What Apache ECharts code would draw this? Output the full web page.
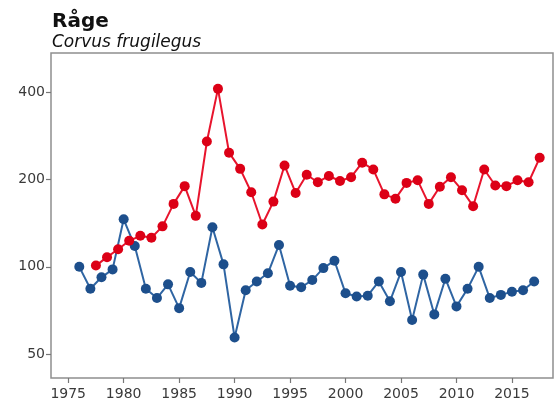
<!DOCTYPE html>
<html>
<head>
<meta charset="utf-8">
<script src="https://cdn.jsdelivr.net/npm/echarts@6/dist/echarts.min.js"></script>
<style>
  html, body { margin: 0; padding: 0; background: #fff; }
  #chart { width: 557px; height: 400px; }
</style>
</head>
<body>
<div id="chart"></div>
<script>
// blue series, one value per year 1976-2017
const blueYears = [1976, 1977, 1978, 1979, 1980, 1981, 1982, 1983, 1984, 1985, 1986, 1987, 1988, 1989,
  1990, 1991, 1992, 1993, 1994, 1995, 1996, 1997, 1998, 1999, 2000, 2001, 2002, 2003,
  2004, 2005, 2006, 2007, 2008, 2009, 2010, 2011, 2012, 2013, 2014, 2015, 2016, 2017]
const blueValues = [100, 84, 92, 98, 146, 118, 84, 78, 87, 72, 96, 88, 137, 102,
  57, 83, 89, 95, 119, 86, 85, 90, 99, 105, 81, 79, 79.5, 89,
  76, 96, 65.5, 94, 68.5, 91, 73, 84, 100, 78, 80, 82, 83, 89]

// red series, winter seasons 1977/78 - 2017/18 (plotted mid-season)
const redYears = [1977.5, 1978.5, 1979.5, 1980.5, 1981.5, 1982.5, 1983.5, 1984.5, 1985.5, 1986.5,
  1987.5, 1988.5, 1989.5, 1990.5, 1991.5, 1992.5, 1993.5, 1994.5, 1995.5, 1996.5,
  1997.5, 1998.5, 1999.5, 2000.5, 2001.5, 2002.5, 2003.5, 2004.5, 2005.5, 2006.5,
  2007.5, 2008.5, 2009.5, 2010.5, 2011.5, 2012.5, 2013.5, 2014.5, 2015.5, 2016.5, 2017.5]
const redValues = [101, 108, 115, 123, 128, 126, 138, 165, 190, 150,
  271, 412, 248, 218, 181, 140, 168, 224, 180, 208,
  196, 206, 198, 204, 229, 217, 178, 172, 195, 199,
  165, 189, 204, 184, 162, 217, 191, 190, 199, 196, 238]

const xTicks = [1975, 1980, 1985, 1990, 1995, 2000, 2005, 2010, 2015]
const yTicks = [50, 100, 200, 400]

const zip = (xs, ys) => xs.map((x, i) => [x, ys[i]])

const chart = echarts.init(document.getElementById('chart'))
const font = 'DejaVu Sans, Arial, sans-serif'

const option = {
  animation: false,
  title: {
    text: 'Råge',
    subtext: 'Corvus frugilegus',
    left: 47,
    top: 7,
    itemGap: 2,
    textStyle: { fontFamily: font, fontSize: 20, fontWeight: 'bold', color: '#111' },
    subtextStyle: { fontFamily: font, fontSize: 17, fontStyle: 'italic', color: '#111' },
  },
  grid: {
    left: 51,
    right: 4,
    top: 53,
    bottom: 22,
    outerBoundsMode: 'none',
    show: true,
    borderColor: '#8f8f8f',
    borderWidth: 1.5,
    backgroundColor: '#fff',
  },
  xAxis: {
    type: 'value',
    min: 1973.45,
    max: 2018.7,
    axisLine: { show: false },
    splitLine: { show: false },
    axisTick: {
      show: true,
      customValues: xTicks,
      length: 5,
      lineStyle: { color: '#777', width: 1.2 },
    },
    axisLabel: {
      customValues: xTicks,
      fontFamily: font,
      fontSize: 14,
      color: '#3a3a3a',
      margin: 9,
      formatter: (v) => String(v),
    },
  },
  yAxis: {
    type: 'log',
    logBase: 2,
    min: 41.3,
    max: 548,
    axisLine: { show: false },
    splitLine: { show: false },
    axisTick: {
      show: true,
      customValues: yTicks,
      length: 5,
      lineStyle: { color: '#777', width: 1.2 },
    },
    axisLabel: {
      customValues: yTicks,
      fontFamily: font,
      fontSize: 14,
      color: '#3a3a3a',
      margin: 6,
      formatter: (v) => String(Math.round(v)),
    },
  },
  series: [
    {
      type: 'line',
      data: zip(blueYears, blueValues),
      symbol: 'circle',
      symbolSize: 10,
      lineStyle: { color: '#2f65a3', width: 2 },
      itemStyle: { color: '#1d4f8c' },
      z: 2,
    },
    {
      type: 'line',
      data: zip(redYears, redValues),
      symbol: 'circle',
      symbolSize: 10,
      lineStyle: { color: '#e8142d', width: 2 },
      itemStyle: { color: '#dc0016' },
      z: 3,
    },
  ],
}

option && chart.setOption(option)
</script>
</body>
</html>
